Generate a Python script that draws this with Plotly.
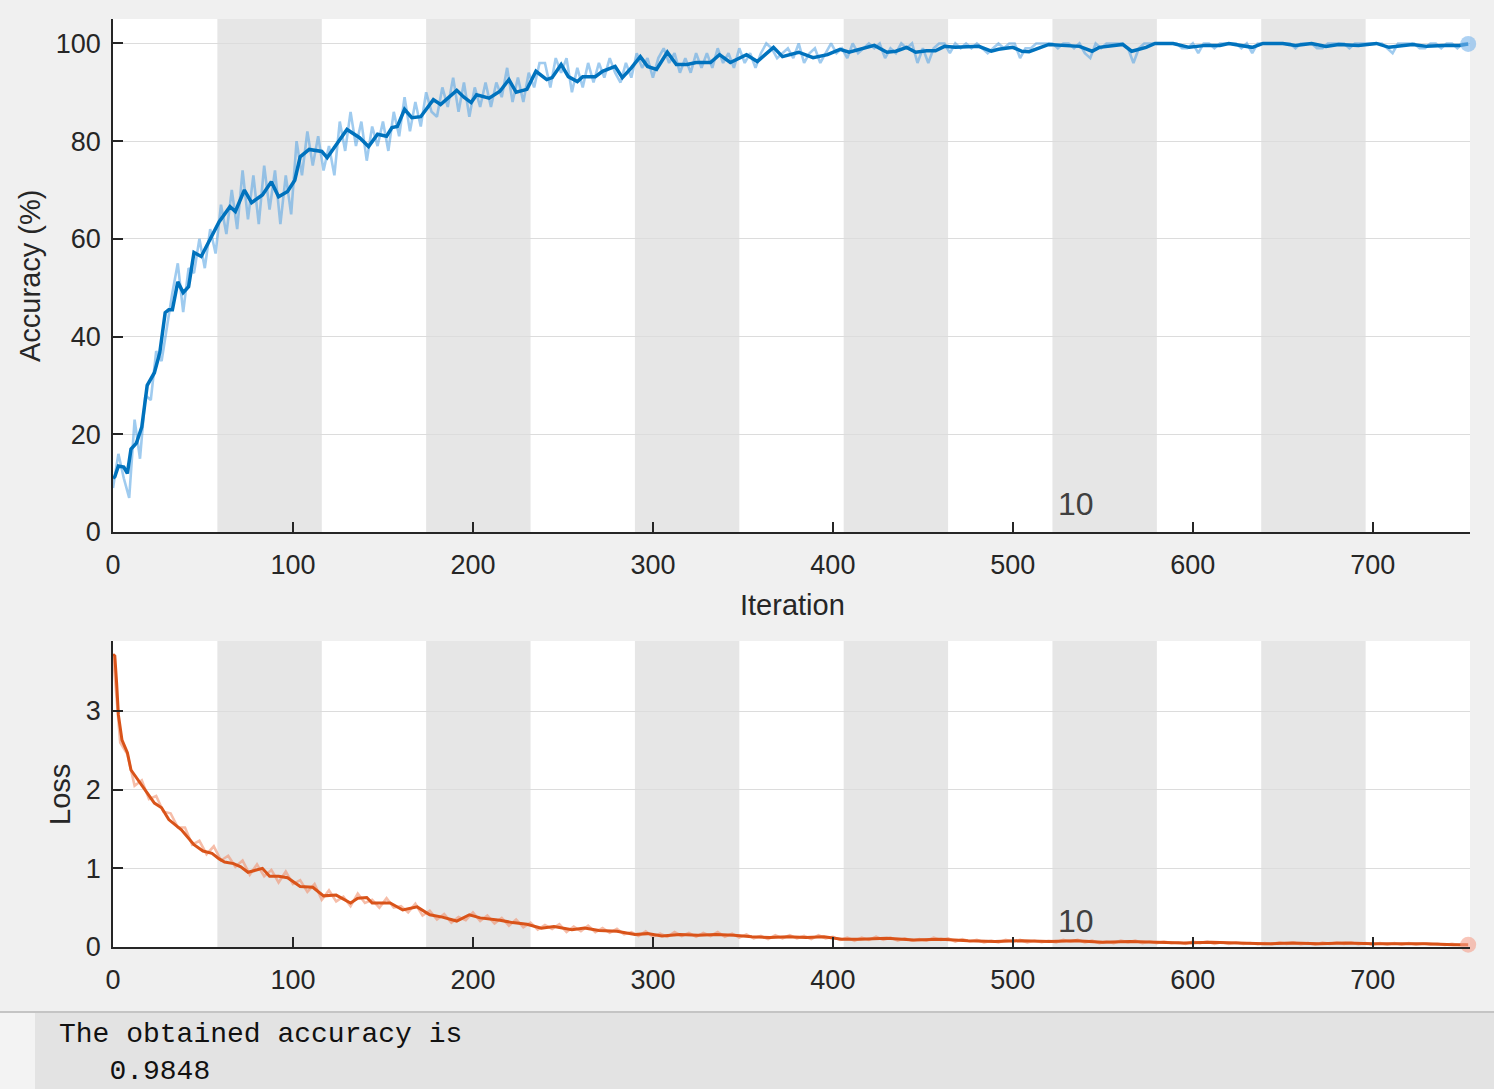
import plotly.graph_objects as go

# ---------------- data ----------------
epoch_len = 58
n_iter = 754
x_ticks = [0, 100, 200, 300, 400, 500, 600, 700]
acc_ticks = [0, 20, 40, 60, 80, 100]
loss_ticks = [0, 1, 2, 3]

acc_smooth_iter = [0, 1, 3, 6, 8, 10, 13, 16, 19, 23,
                   26, 29, 31, 33, 36, 39, 42, 45, 49, 55,
                   59, 65, 68, 73, 77, 83, 88, 92, 97, 101,
                   104, 109, 116, 119, 124, 130, 137, 142, 147, 152,
                   155, 158, 162, 166, 171, 178, 182, 191, 195, 199,
                   202, 209, 215, 220, 224, 230, 235, 241, 244, 249,
                   253, 258, 261, 268, 272, 279, 283, 288, 293, 297,
                   302, 308, 313, 319, 324, 332, 337, 343, 352, 358,
                   367, 372, 381, 389, 397, 404, 409, 415, 423, 430,
                   435, 441, 446, 452, 457, 462, 468, 481, 488, 492,
                   500, 505, 509, 520, 537, 544, 548, 561, 566, 574,
                   579, 589, 598, 607, 615, 620, 633, 639, 650, 657,
                   666, 674, 681, 692, 702, 709, 722, 730, 739, 748,
                   753]
acc_smooth = [11, 11.3, 13.5, 13.3, 12, 17, 18.2, 21.5, 30, 32.6,
              36.7, 44.9, 45.5, 45.5, 51.2, 49, 50.2, 57.2, 56.4, 60.5,
              63.5, 66.6, 65.6, 70, 67.4, 69, 71.7, 68.6, 69.7, 72,
              76.8, 78.3, 77.9, 76.6, 79.3, 82.4, 80.7, 78.9, 81.4, 81,
              82.8, 83, 86.5, 84.8, 85, 88.5, 87.5, 90.4, 89, 87.9,
              89.5, 88.8, 90.2, 92.6, 90, 90.6, 94.3, 92.6, 93, 95.7,
              93.2, 92.2, 93.2, 93.2, 94.3, 95.3, 93, 95, 97.3, 95.3,
              94.7, 98.2, 95.7, 95.7, 96.1, 96.1, 97.7, 96.1, 97.7, 96.3,
              99.2, 97.3, 98.2, 97.1, 97.7, 98.8, 98.2, 98.8, 99.6, 98.2,
              98.4, 99.2, 98.2, 98.5, 98.5, 99.4, 99.2, 99.4, 98.4, 98.8,
              99.2, 98.4, 98.3, 99.8, 99.4, 98.4, 99.2, 99.8, 98.4, 99.2,
              100, 100, 99.2, 99.6, 99.6, 100, 99.2, 100, 100, 99.6,
              100, 99.4, 99.8, 99.6, 100, 99.2, 99.8, 99.4, 99.6, 99.6,
              99.9]

acc_raw_iter = list(range(0, n_iter, 3))
acc_raw = [9, 16, 11, 7, 23, 15, 28, 27, 37, 35,
           42, 49, 55, 45, 54, 53, 60, 54, 62, 57,
           67, 61, 70, 62, 74, 64, 73, 63, 75, 66,
           74, 63, 73, 65, 80, 73, 82, 75, 81, 74,
           79, 73, 84, 78, 86, 79, 84, 76, 83, 79,
           84, 78, 86, 81, 89, 82, 88, 83, 90, 86,
           85, 91, 87, 93, 86, 92, 85, 91, 87, 92,
           87, 92, 89, 95, 88, 93, 88, 94, 91, 96,
           96, 91, 97, 94, 97, 90, 95, 91, 96, 92,
           96, 93, 97, 94, 92, 96, 93, 98, 95, 97,
           93, 97, 99, 96, 98, 94, 97, 94, 98, 95,
           98, 95, 99, 96, 98, 95, 99, 96, 98, 95,
           98, 100, 99, 97, 98, 99, 97, 100, 96, 98,
           99, 96, 98, 100, 98, 99, 97, 100, 98, 99,
           100, 99, 100, 97, 99, 98, 100, 99, 100, 96,
           99, 96, 99, 100, 100, 98, 100, 99, 100, 99,
           100, 99, 98, 99, 100, 99, 100, 100, 97, 99,
           99, 100, 100, 100, 100, 99, 100, 100, 99, 100,
           98, 97, 100, 99, 100, 100, 100, 100, 99, 96,
           99, 100, 100, 100, 100, 100, 100, 100, 99, 99,
           100, 98, 100, 100, 99, 100, 100, 100, 100, 99,
           100, 98, 100, 100, 100, 100, 100, 100, 100, 99,
           100, 100, 100, 99, 99, 100, 100, 100, 100, 99,
           100, 100, 100, 100, 100, 100, 99, 98, 100, 100,
           100, 100, 99, 99, 100, 100, 99, 100, 100, 99, 100, 100]

loss_smooth_iter = [0, 1, 2, 3, 5, 8, 10, 14, 18, 23,
                    27, 31, 38, 45, 50, 55, 59, 62, 67, 71,
                    75, 80, 83, 87, 92, 97, 104, 111, 117, 124,
                    132, 136, 141, 144, 154, 161, 169, 176, 183, 191,
                    198, 204, 215, 222, 230, 238, 245, 255, 262, 270,
                    280, 290, 297, 305, 315, 325, 335, 345, 355, 365,
                    375, 385, 395, 405, 415, 430, 445, 460, 475, 490,
                    505, 520, 535, 550, 565, 580, 595, 610, 625, 640,
                    655, 670, 685, 700, 715, 730, 745, 753]
loss_smooth = [3.72, 3.70, 3.36, 2.95, 2.63, 2.47, 2.25, 2.12, 2.00, 1.83,
               1.77, 1.62, 1.49, 1.30, 1.22, 1.19, 1.12, 1.08, 1.06, 1.02,
               0.95, 0.98, 1.00, 0.90, 0.90, 0.88, 0.77, 0.76, 0.65, 0.66,
               0.56, 0.62, 0.63, 0.56, 0.56, 0.47, 0.51, 0.41, 0.38, 0.33,
               0.41, 0.37, 0.34, 0.31, 0.29, 0.24, 0.26, 0.22, 0.24, 0.21,
               0.20, 0.16, 0.17, 0.14, 0.16, 0.15, 0.16, 0.15, 0.13, 0.12,
               0.13, 0.12, 0.13, 0.10, 0.10, 0.11, 0.09, 0.10, 0.08, 0.07,
               0.08, 0.07, 0.08, 0.06, 0.07, 0.06, 0.05, 0.06, 0.05, 0.04,
               0.05, 0.04, 0.05, 0.04, 0.04, 0.04, 0.03, 0.03]

loss_raw_iter = list(range(0, n_iter, 4))
loss_raw = [3.72, 2.6, 2.45, 2.05, 2.12, 1.88, 1.92, 1.72, 1.70, 1.52,
            1.52, 1.30, 1.35, 1.18, 1.28, 1.10, 1.16, 1.02, 1.10, 0.92,
            1.05, 0.90, 0.98, 0.82, 0.96, 0.80, 0.85, 0.70, 0.80, 0.60,
            0.72, 0.58, 0.64, 0.52, 0.68, 0.56, 0.60, 0.50, 0.62, 0.50,
            0.52, 0.44, 0.55, 0.40, 0.46, 0.35, 0.42, 0.31, 0.38, 0.34,
            0.44, 0.33, 0.40, 0.30, 0.37, 0.27, 0.35, 0.25, 0.31, 0.22,
            0.28, 0.23, 0.29, 0.19, 0.26, 0.20, 0.27, 0.19, 0.24, 0.18,
            0.23, 0.16, 0.19, 0.14, 0.20, 0.13, 0.17, 0.13, 0.19, 0.14,
            0.18, 0.13, 0.18, 0.14, 0.19, 0.13, 0.17, 0.12, 0.16, 0.11,
            0.14, 0.10, 0.15, 0.11, 0.15, 0.11, 0.14, 0.10, 0.15, 0.11,
            0.13, 0.09, 0.12, 0.08, 0.12, 0.09, 0.13, 0.09, 0.12, 0.08,
            0.11, 0.08, 0.10, 0.08, 0.12, 0.09, 0.11, 0.07, 0.10, 0.07,
            0.09, 0.06, 0.08, 0.06, 0.09, 0.07, 0.09, 0.06, 0.08, 0.06,
            0.08, 0.06, 0.09, 0.07, 0.09, 0.06, 0.08, 0.05, 0.07, 0.05,
            0.08, 0.06, 0.08, 0.05, 0.07, 0.05, 0.07, 0.05, 0.06, 0.04,
            0.07, 0.05, 0.07, 0.04, 0.06, 0.04, 0.06, 0.04, 0.05, 0.035,
            0.05, 0.035, 0.06, 0.04, 0.055, 0.035, 0.05, 0.03, 0.055, 0.04,
            0.06, 0.04, 0.055, 0.035, 0.05, 0.03, 0.05, 0.03, 0.05, 0.03,
            0.05, 0.03, 0.045, 0.03, 0.04, 0.025, 0.04, 0.025, 0.035]

epoch_label = "10"
console_line1 = "The obtained accuracy is"
console_line2 = "   0.9848"

# ---------------- styles ----------------
BLUE = "#0072BD"
BLUE_RAW = "rgba(80,160,225,0.55)"
ORANGE = "#D95319"
ORANGE_RAW = "rgba(240,145,110,0.6)"
AXC = "#262626"
FONT = "Arial, Liberation Sans, Helvetica, sans-serif"
MONO = "Courier New, Liberation Mono, monospace"
W, H = 1494, 1089

fig = go.Figure()

fig.add_trace(go.Scatter(x=acc_raw_iter, y=acc_raw, mode="lines",
                         line=dict(color=BLUE_RAW, width=2.6),
                         xaxis="x", yaxis="y", hoverinfo="skip"))
fig.add_trace(go.Scatter(x=acc_smooth_iter, y=acc_smooth, mode="lines",
                         line=dict(color=BLUE, width=3.5),
                         xaxis="x", yaxis="y"))
fig.add_trace(go.Scatter(x=[acc_smooth_iter[-1]], y=[acc_smooth[-1]], mode="markers",
                         marker=dict(color="rgba(120,180,235,0.6)", size=16,
                                     line=dict(width=0)),
                         xaxis="x", yaxis="y", cliponaxis=False))

fig.add_trace(go.Scatter(x=loss_raw_iter, y=loss_raw, mode="lines",
                         line=dict(color=ORANGE_RAW, width=2.6),
                         xaxis="x2", yaxis="y2", hoverinfo="skip"))
fig.add_trace(go.Scatter(x=loss_smooth_iter, y=loss_smooth, mode="lines",
                         line=dict(color=ORANGE, width=3.0),
                         xaxis="x2", yaxis="y2"))
fig.add_trace(go.Scatter(x=[loss_smooth_iter[-1]], y=[loss_smooth[-1]], mode="markers",
                         marker=dict(color="rgba(245,160,140,0.6)", size=16,
                                     line=dict(width=0)),
                         xaxis="x2", yaxis="y2", cliponaxis=False))

# epoch bands (every other epoch shaded)
shapes = []
n_epochs = -(-n_iter // epoch_len)
for e in range(1, n_epochs, 2):
    for xr, yr in (("x", "y domain"), ("x2", "y2 domain")):
        shapes.append(dict(type="rect", xref=xr, yref=yr,
                           x0=e * epoch_len, x1=min((e + 1) * epoch_len, n_iter),
                           y0=0, y1=1, fillcolor="#e6e6e6", line=dict(width=0),
                           layer="below"))

# console area at bottom
cons_top = 1 - 1012 / H
shapes.append(dict(type="rect", xref="paper", yref="paper", x0=0, x1=1,
                   y0=0, y1=cons_top, fillcolor="#e3e3e3", line=dict(width=0),
                   layer="below"))
shapes.append(dict(type="rect", xref="paper", yref="paper", x0=0, x1=35 / W,
                   y0=0, y1=cons_top, fillcolor="#f3f3f3", line=dict(width=0),
                   layer="below"))
shapes.append(dict(type="line", xref="paper", yref="paper", x0=0, x1=1,
                   y0=cons_top, y1=cons_top, line=dict(color="#c4c4c4", width=2),
                   layer="below"))

xdom = [113 / W, 1470 / W]
common_x = dict(range=[0, n_iter], tickvals=x_ticks, ticks="inside", ticklen=10,
                tickwidth=1.5, tickcolor=AXC, showline=True, linecolor=AXC,
                linewidth=1.5, showgrid=False, zeroline=False, automargin=False,
                tickfont=dict(family=FONT, size=27, color=AXC),
                ticklabelstandoff=8, domain=xdom, fixedrange=True)
common_y = dict(ticks="inside", ticklen=10, tickwidth=1.5, tickcolor=AXC,
                showline=True, linecolor=AXC, linewidth=1.5, showgrid=True,
                gridcolor="#dcdcdc", gridwidth=1.2, zeroline=False, automargin=False,
                tickfont=dict(family=FONT, size=27, color=AXC),
                ticklabelstandoff=5, fixedrange=True)

fig.update_layout(
    width=W, height=H, autosize=False,
    margin=dict(l=0, r=0, t=0, b=0, pad=0),
    paper_bgcolor="#f0f0f0", plot_bgcolor="white",
    showlegend=False,
    xaxis=dict(common_x, anchor="y"),
    yaxis=dict(common_y, anchor="x", range=[0, 105], tickvals=acc_ticks,
               domain=[1 - 532 / H, 1 - 19 / H]),
    xaxis2=dict(common_x, anchor="y2"),
    yaxis2=dict(common_y, anchor="x2", range=[0, 3.89], tickvals=loss_ticks,
                domain=[1 - 947 / H, 1 - 641 / H]),
    shapes=shapes,
    annotations=[
        dict(text="Iteration", xref="paper", yref="paper", x=792 / W, y=1 - 605 / H,
             showarrow=False, font=dict(family=FONT, size=29, color=AXC),
             xanchor="center", yanchor="middle"),
        dict(text="Accuracy (%)", xref="paper", yref="paper", x=30 / W, y=1 - 276 / H,
             showarrow=False, textangle=-90, font=dict(family=FONT, size=29, color=AXC),
             xanchor="center", yanchor="middle"),
        dict(text="Loss", xref="paper", yref="paper", x=60 / W, y=1 - 795 / H,
             showarrow=False, textangle=-90, font=dict(family=FONT, size=29, color=AXC),
             xanchor="center", yanchor="middle"),
        dict(text=epoch_label, xref="x", yref="y", x=9 * epoch_len + 2, y=5.8,
             showarrow=False, font=dict(family=FONT, size=32, color="#404040"),
             xanchor="left", yanchor="middle"),
        dict(text=epoch_label, xref="x2", yref="y2", x=9 * epoch_len + 2, y=0.33,
             showarrow=False, font=dict(family=FONT, size=32, color="#404040"),
             xanchor="left", yanchor="middle"),
        dict(text=console_line1, xref="paper", yref="paper", x=57 / W, y=1 - 1034 / H,
             showarrow=False, xanchor="left", yanchor="middle",
             font=dict(family=MONO, size=28, color="#111111")),
        dict(text=console_line2.replace(" ", "&nbsp;"), xref="paper", yref="paper",
             x=57 / W, y=1 - 1071 / H,
             showarrow=False, xanchor="left", yanchor="middle",
             font=dict(family=MONO, size=28, color="#111111")),
    ],
)

fig.write_html(
    "out.html",
    config={"displayModeBar": False},
    post_script="document.body.style.margin='0';document.body.style.background='#f0f0f0';",
)
